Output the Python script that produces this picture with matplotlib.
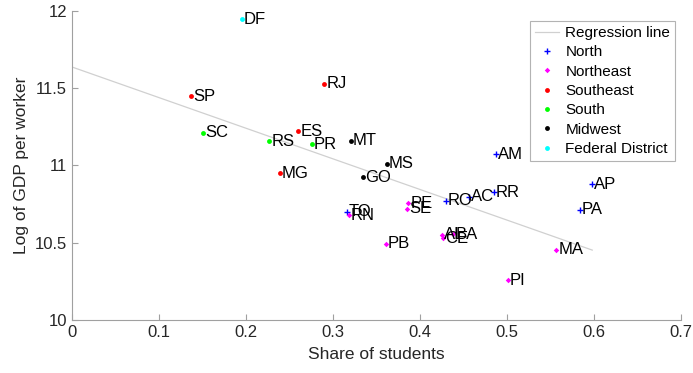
import numpy as np
import matplotlib.pyplot as plt

plt.rcParams['font.family'] = ['Liberation Sans', 'DejaVu Sans']

# --- дані по регіонах ---
north_states = ['AC', 'AM', 'AP', 'PA', 'RO', 'RR', 'TO']
north_x = [0.4563, 0.4874, 0.5980, 0.5839, 0.4295, 0.4847, 0.3157]
north_y = [10.798, 11.072, 10.878, 10.714, 10.770, 10.826, 10.701]

northeast_states = ['AL', 'BA', 'CE', 'MA', 'PB', 'PE', 'PI', 'RN', 'SE']
northeast_x = [0.4256, 0.4383, 0.4268, 0.5567, 0.3609, 0.3866, 0.5008, 0.3184, 0.3851]
northeast_y = [10.550, 10.555, 10.529, 10.453, 10.492, 10.755, 10.257, 10.677, 10.720]

southeast_states = ['ES', 'MG', 'RJ', 'SP']
southeast_x = [0.2603, 0.2391, 0.2897, 0.1368]
southeast_y = [11.222, 10.949, 11.528, 11.447]

south_states = ['PR', 'RS', 'SC']
south_x = [0.2755, 0.2268, 0.1509]
south_y = [11.136, 11.156, 11.211]

midwest_states = ['GO', 'MS', 'MT']
midwest_x = [0.3348, 0.3617, 0.3207]
midwest_y = [10.923, 11.011, 11.160]

df_states = ['DF']
df_x = [0.1954]
df_y = [11.944]

# регресія (з картинки)
reg_intercept = 11.636
reg_slope = -1.98

groups = [
    ('North', north_states, north_x, north_y, '#0000ff', '+', 4),
    ('Northeast', northeast_states, northeast_x, northeast_y, '#ff00ff', 'D', 2.8),
    ('Southeast', southeast_states, southeast_x, southeast_y, '#ff0000', 'o', 3.5),
    ('South', south_states, south_x, south_y, '#00ff00', 'o', 3.5),
    ('Midwest', midwest_states, midwest_x, midwest_y, 'k', 'o', 3.5),
    ('Federal District', df_states, df_x, df_y, '#00ffff', 'o', 3.5),
]

fig = plt.figure(figsize=(6.93, 3.73), dpi=100)
ax = fig.add_axes([0.1039, 0.1421, 0.9827 - 0.1039, 0.9713 - 0.1421])

all_x = north_x + northeast_x + southeast_x + south_x + midwest_x + df_x
xr = np.array([0, max(all_x)])
ax.plot(xr, reg_intercept + reg_slope * xr, color='#d0d0d0', lw=0.9,
        label='Regression line')

for name, states, xs, ys, c, m, ms in groups:
    ax.plot(xs, ys, ls='none', marker=m, color=c, ms=ms, mew=1 if m == '+' else 0,
            label=name)
    for s, xi, yi in zip(states, xs, ys):
        ax.annotate(s, (xi, yi), xytext=(1.5, 0), textcoords='offset points',
                    va='center', ha='left', fontsize=12)

ax.set_xlim(0, 0.7)
ax.set_ylim(10, 12)
ax.set_xticks(np.arange(0, 0.71, 0.1))
ax.set_xticklabels(['0', '0.1', '0.2', '0.3', '0.4', '0.5', '0.6', '0.7'])
ax.set_yticks([10, 10.5, 11, 11.5, 12])
ax.set_yticklabels(['10', '10.5', '11', '11.5', '12'])

for sp in ['top', 'right']:
    ax.spines[sp].set_visible(False)
for sp in ['left', 'bottom']:
    ax.spines[sp].set_color('#a0a0a0')
ax.tick_params(direction='in', length=4, color='#a0a0a0', labelsize=12,
               labelcolor='#262626')

ax.set_xlabel('Share of students', fontsize=12.5, color='#262626', labelpad=5)
ax.set_ylabel('Log of GDP per worker', fontsize=12.5, color='#262626', labelpad=4)

leg = ax.legend(loc='upper right', fontsize=11, frameon=True, fancybox=False,
                edgecolor='#a0a0a0', borderpad=0.3, labelspacing=0.35,
                handlelength=1.6, handletextpad=0.4, borderaxespad=0.4,
                bbox_to_anchor=(1.0, 0.985))
leg.get_frame().set_linewidth(0.8)

fig.savefig('out.png', dpi=100)
